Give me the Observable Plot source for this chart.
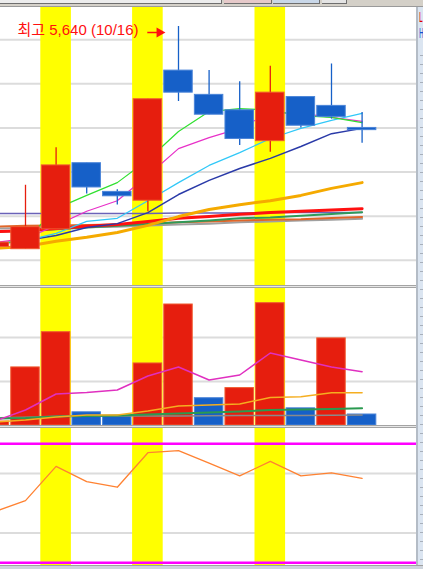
<!DOCTYPE html>
<html><head><meta charset="utf-8">
<script src="https://cdn.jsdelivr.net/npm/d3@7"></script>
<script src="https://cdn.jsdelivr.net/npm/@observablehq/plot@0.6"></script>
<style>
html,body{margin:0;padding:0;background:#fff;}
#wrap{position:relative;width:423px;height:569px;overflow:hidden;background:#fff;font-family:"Noto Sans CJK KR",sans-serif;}
.abs{position:absolute;}
.pan{position:absolute;left:0;width:416px;overflow:hidden;}
.pan svg{display:block;}
#toolbar{left:0;top:0;width:423px;height:6px;background:#d4d0c8;border-bottom:1px solid #9a9a9a;}
.btn{position:absolute;top:0;height:3px;border-bottom:1px solid #6e6e6e;border-right:1px solid #6e6e6e;}
.sep{position:absolute;left:0;width:416px;height:3px;box-sizing:border-box;border-top:1px solid #a4a4a4;border-bottom:1px solid #a4a4a4;background:#e6e6e6;}
#strip{left:416px;top:7px;width:7px;height:559px;box-sizing:border-box;border-left:2px solid #b4bcc6;background:#dbe5f1;overflow:hidden;
 background-image:repeating-linear-gradient(to bottom, transparent 0, transparent 8px, #a8b0bb 8px, #a8b0bb 9px);background-size:3px 100%;background-repeat:no-repeat;background-position:2px 40px;}
#strip span{position:absolute;left:1px;font:14px "DejaVu Sans",sans-serif;line-height:14px;transform:scaleX(0.45);transform-origin:0 0;white-space:nowrap;}
#bottom{left:0;top:565px;width:423px;height:4px;background:#cfd5dd;border-top:1px solid #a0a0a0;box-sizing:border-box;}
</style></head><body><div id="wrap">
<div id="toolbar" class="abs">
 <div class="btn" style="left:0;width:221px;background:#ececec"></div>
 <div class="btn" style="left:224px;width:47px;background:#e6c9c9"></div>
 <div class="btn" style="left:273px;width:46px;background:#c9d7e8"></div>
 <div class="btn" style="left:322px;width:24px;background:#e4e4e4"></div>
</div>
<div id="price" class="pan" style="top:7px;height:278px"></div>
<div class="sep" style="top:285px"></div>
<div id="vol" class="pan" style="top:288px;height:137px"></div>
<div class="sep" style="top:425px"></div>
<div id="rsi" class="pan" style="top:428px;height:137px"></div>
<div id="strip" class="abs"><span style="top:3px;color:#e00000">L</span><span style="top:19px;color:#1050d0">H</span></div>
<div id="bottom" class="abs"></div>
</div>
<script>
// ---- data ----
const idx    = [-1, 0, 1, 2, 3, 4, 5, 6, 7, 8, 9, 10, 11];
const dates  = ["10/07","10/08","10/10","10/13","10/14","10/15","10/16","10/17","10/20","10/21","10/22","10/23","10/24"];
const open   = [5140, 5135, 5180, 5330, 5265, 5245, 5540, 5485, 5450, 5380, 5480, 5460, 5410];
const high   = [5150, 5280, 5365, 5330, 5270, 5475, 5640, 5540, 5515, 5550, 5480, 5555, 5445];
const low    = [5140, 5135, 5180, 5260, 5235, 5220, 5470, 5440, 5370, 5355, 5410, 5430, 5375];
const close  = [5150, 5185, 5325, 5275, 5255, 5475, 5490, 5440, 5385, 5490, 5415, 5435, 5405];
const volume = [9000, 132000, 212000, 30000, 22000, 141000, 275000, 62000, 85000, 278000, 39000, 198000, 25000];
const highlightDates = ["10/10", "10/15", "10/21"];

const maGreen   = [5146, 5155, 5227, 5257, 5286, 5338, 5402, 5447, 5454, 5450, 5438, 5434, 5422];
const maMagenta = [5150, 5159, 5189, 5221, 5245, 5302, 5363, 5388, 5409, 5445, 5443, 5434, 5425];
const maCyan    = [5149, 5154, 5171, 5198, 5205, 5245, 5286, 5325, 5354, 5386, 5409, 5427, 5443];
const maNavy    = [5146, 5155, 5166, 5184, 5193, 5218, 5259, 5291, 5318, 5341, 5368, 5397, 5409];
const maOrange  = [5137, 5141, 5153, 5162, 5173, 5189, 5209, 5225, 5236, 5245, 5257, 5273, 5286];
const maRed     = [5175, 5177, 5182, 5187, 5191, 5198, 5205, 5209, 5214, 5218, 5221, 5224, 5227];
const maPurple  = [5216, 5216, 5216, 5216, 5216, 5216, 5217, 5217, 5217, 5218, 5218, 5218, 5218];
const maDkGreen = [5175, 5177, 5180, 5184, 5188, 5192, 5196, 5200, 5205, 5207, 5211, 5215, 5219];
const maBrown   = [5186, 5188, 5189, 5190, 5191, 5193, 5196, 5198, 5200, 5202, 5203, 5206, 5208];
const maGray    = [5182, 5183, 5184, 5185, 5186, 5189, 5191, 5193, 5196, 5198, 5200, 5202, 5204];

const volMagenta = [10200, 35200, 71600, 75000, 80700, 112500, 133000, 103400, 114800, 164800, 148900, 133000, 122300];
const volOrange  = [8000, 12500, 19300, 23900, 23900, 33000, 44300, 46600, 48900, 63600, 65500, 74500, 74500];
const volGreen   = [15900, 17000, 20500, 21600, 22700, 25000, 27300, 29500, 31800, 35200, 36400, 37500, 39100];
const volGray    = [17000, 19000, 21000, 21600, 21600, 21600, 21600, 22000, 22500, 22700, 23000, 23500, 23900];

const rsi = [47.2, 50.9, 62.4, 57.3, 55.4, 67.0, 67.7, 63.5, 59.2, 64.1, 59.2, 60.2, 58.4];

const priceGrid = [5110, 5210, 5310, 5410, 5510, 5610];
const volGrid   = [100000, 200000];
const rsiGrid   = [40, 60];
const rsiBounds = [30, 70];
const highNote  = [{date: "10/16", price: 5640, label: "최고 5,640 (10/16)"}];

// ---- derived tables ----
const RED = "#e61e0e", BLUE = "#1660c8", YELLOW = "#ffff00";
const candles = idx.map((i, k) => ({i, date: dates[k], o: open[k], h: high[k], l: low[k], c: close[k], v: volume[k],
  color: close[k] >= open[k] ? RED : BLUE,
  vcolor: (k === 0 || volume[k] >= volume[k - 1]) ? RED : BLUE}));
const bands = highlightDates.map(d => idx[dates.indexOf(d)]);
const note = highNote.map(n => ({...n, i: idx[dates.indexOf(n.date)]}));
const series = (vals) => idx.map((i, k) => ({i, v: vals[k]}));

const priceLines = [
  {vals: maPurple, stroke: "#6a62b8", w: 1.5},
  {vals: maGray, stroke: "#a0a0a0", w: 2},
  {vals: maBrown, stroke: "#e0662a", w: 2},
  {vals: maDkGreen, stroke: "#2f9a5a", w: 2},
  {vals: maRed, stroke: "#ff1010", w: 3},
  {vals: maOrange, stroke: "#f5aa00", w: 3},
  {vals: maNavy, stroke: "#2a3aa8", w: 1.5},
  {vals: maCyan, stroke: "#30c8f8", w: 1.2},
  {vals: maMagenta, stroke: "#e830c8", w: 1.2},
  {vals: maGreen, stroke: "#30e030", w: 1.2}
];
const volLines = [
  {vals: volGray, stroke: "#8a8a8a", w: 1.5},
  {vals: volGreen, stroke: "#2a9a50", w: 2},
  {vals: volOrange, stroke: "#f5ae20", w: 1.5},
  {vals: volMagenta, stroke: "#e030c0", w: 1.5}
];

const X = {type: "linear", domain: [-0.817, 12.778], axis: null};
function panel(id, height, domain, marks) {
  const svg = Plot.plot({width: 416, height, margin: 0, x: X, y: {domain, axis: null},
    color: {type: "identity"}, style: {background: "transparent"}, marks});
  document.getElementById(id).appendChild(svg);
}
const bandMark = Plot.rect(bands, {x1: d => d - 0.5, x2: d => d + 0.5, fill: YELLOW});
const lineMarks = (arr) => arr.map(s => Plot.line(series(s.vals), {x: "i", y: "v", stroke: s.stroke, strokeWidth: s.w}));

// price panel: 7..285 px
panel("price", 278, [5052.7, 5683.1], [
  Plot.ruleY(priceGrid, {stroke: "#dcdcdc", strokeWidth: 2}),
  bandMark,
  ...lineMarks(priceLines),
  Plot.ruleX(candles, {x: "i", y1: "l", y2: "h", stroke: "color", strokeWidth: 1.3}),
  Plot.rect(candles, {x1: d => d.i - 0.465, x2: d => d.i + 0.465, y1: "o", y2: "c", fill: "color",
    stroke: d => d.color === RED ? "#f05a30" : "#4a84d8", strokeWidth: 1}),
  Plot.text(note, {x: "i", y: "price", text: "label", textAnchor: "end", dx: -40, dy: 4, fill: "#ff1010",
    fontSize: 15, fontFamily: "'Liberation Sans', 'Noto Sans CJK KR', sans-serif"}),
  Plot.link(note, {x1: d => d.i - 1.02, x2: d => d.i - 0.6, y1: "price", y2: "price", dy: 6, stroke: "#ff1010", strokeWidth: 1.5}),
  Plot.dot(note, {x: d => d.i - 0.62, y: "price", dy: 6, symbol: "triangle", r: 3.8, rotate: 90, fill: "#ff1010", stroke: "none"})
]);

// volume panel: 288..425 px, 44px per 100k
panel("vol", 137, [0, 311364], [
  Plot.ruleY(volGrid, {stroke: "#dcdcdc", strokeWidth: 2}),
  bandMark,
  Plot.rect(candles, {x1: d => d.i - 0.465, x2: d => d.i + 0.465, y1: 0, y2: "v", fill: "vcolor",
    stroke: d => d.vcolor === RED ? "#f05a30" : "#4a84d8", strokeWidth: 1}),
  ...lineMarks(volLines)
]);

// indicator panel: 428..565 px
panel("rsi", 137, [29.09, 75.14], [
  Plot.ruleY(rsiGrid, {stroke: "#dcdcdc", strokeWidth: 2}),
  bandMark,
  Plot.ruleY(rsiBounds, {stroke: "#ff00ff", strokeWidth: 2.5}),
  Plot.line(series(rsi), {x: "i", y: "v", stroke: "#ff8232", strokeWidth: 1.3})
]);
</script></body></html>
